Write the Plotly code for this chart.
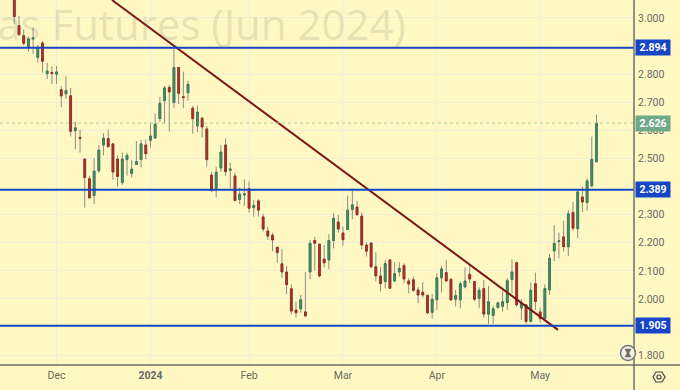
import plotly.graph_objects as go

opens = [3.09,2.973,2.937,2.895,2.925,2.860,2.911,2.802,2.806,2.800,2.745,2.730,2.723,2.599,2.575,2.498,2.428,2.368,2.456,2.548,2.571,2.552,2.498,2.414,2.496,2.447,2.479,2.496,2.548,2.565,2.573,2.642,2.706,2.753,
2.699,2.824,2.720,2.734,2.679,2.616,2.643,2.605,2.441,2.394,2.466,2.548,2.458,2.438,2.354,2.370,2.392,2.325,2.349,2.292,2.242,
2.227,2.184,2.125,2.096,2.036,1.961,1.965,1.954,2.096,2.208,2.195,2.142,2.139,2.208,2.274,2.235,2.247,2.318,2.327,2.295,2.192,2.199,2.115,2.082,2.062,2.139,2.064,2.096,2.119,2.064,2.068,2.032,2.024,2.013,
1.952,1.997,2.075,2.094,2.070,1.999,1.997,2.043,2.088,2.062,2.002,2.037,1.946,1.941,1.969,1.974,1.987,2.069,2.129,1.968,1.979,1.920,2.054,1.954,1.930,2.032,2.171,2.204,2.221,2.186,2.308,2.250,2.363,2.343,2.403,2.488]
closes = [3.005,2.941,2.910,2.925,2.928,2.896,2.846,2.811,2.802,2.808,2.723,2.742,2.597,2.609,2.571,2.432,2.360,2.455,2.530,2.572,2.542,2.452,2.436,2.498,2.511,2.462,2.489,2.552,2.517,2.580,2.622,2.696,2.751,2.737,
2.824,2.732,2.717,2.764,2.642,2.665,2.612,2.496,2.386,2.451,2.523,2.453,2.462,2.350,2.373,2.374,2.323,2.333,2.316,2.249,2.224,
2.210,2.165,2.096,2.051,1.957,1.951,1.997,1.940,2.198,2.198,2.082,2.129,2.208,2.287,2.249,2.211,2.316,2.335,2.300,2.192,2.170,2.115,2.082,2.055,2.126,2.038,2.090,2.109,2.071,2.053,2.031,2.014,2.014,1.951,
1.999,2.075,2.107,2.064,1.997,2.012,2.054,2.064,2.071,1.999,2.031,1.946,1.990,1.965,1.986,1.990,2.065,2.096,1.979,1.985,1.920,2.031,1.991,1.931,2.037,2.145,2.198,2.207,2.186,2.303,2.252,2.381,2.345,2.420,2.497,2.626]
highs = [3.12,3.007,2.960,2.934,2.966,2.904,2.918,2.840,2.827,2.830,2.758,2.793,2.751,2.631,2.602,2.498,2.438,2.502,2.548,2.590,2.602,2.552,2.511,2.521,2.521,2.495,2.562,2.566,2.568,2.629,2.660,2.719,2.758,2.762,
2.898,2.824,2.809,2.777,2.687,2.688,2.649,2.616,2.453,2.471,2.548,2.571,2.485,2.450,2.397,2.426,2.418,2.352,2.355,2.303,2.258,
2.236,2.186,2.178,2.118,2.052,1.991,2.014,2.096,2.210,2.222,2.195,2.192,2.230,2.305,2.299,2.258,2.368,2.393,2.349,2.307,2.203,2.203,2.166,2.113,2.139,2.142,2.131,2.131,2.127,2.074,2.080,2.042,2.059,2.014,
2.018,2.091,2.118,2.139,2.074,2.032,2.062,2.112,2.121,2.064,2.042,2.068,2.046,1.976,1.991,2.030,2.074,2.141,2.133,2.000,1.979,2.058,2.094,1.970,2.052,2.160,2.263,2.236,2.278,2.317,2.345,2.388,2.400,2.429,2.578,2.656]
lows = [2.979,2.936,2.903,2.880,2.872,2.841,2.806,2.783,2.765,2.765,2.682,2.712,2.578,2.533,2.521,2.325,2.357,2.338,2.450,2.511,2.540,2.424,2.400,2.406,2.439,2.432,2.479,2.468,2.498,2.539,2.571,2.630,2.625,2.596,
2.679,2.694,2.679,2.706,2.588,2.594,2.575,2.471,2.381,2.362,2.452,2.438,2.394,2.349,2.338,2.332,2.307,2.293,2.293,2.240,2.210,
2.170,2.129,2.075,2.018,1.946,1.934,1.951,1.935,2.070,2.101,2.077,2.113,2.106,2.180,2.236,2.190,2.246,2.284,2.295,2.177,2.151,2.109,2.062,2.026,2.038,2.036,2.061,2.080,2.056,2.020,2.025,1.985,2.005,1.946,
1.930,1.961,2.023,2.062,1.994,1.973,1.967,2.038,2.056,1.992,1.967,1.933,1.911,1.911,1.967,1.955,1.961,2.020,1.973,1.925,1.911,1.916,1.961,1.916,1.925,2.014,2.135,2.145,2.169,2.153,2.243,2.217,2.310,2.314,2.397,2.488]
bars = list(range(len(opens)))

level_values = [2.894, 2.389, 1.905]
last_price = 2.626
trend_bars = [20.8, 115.8]
trend_prices = [3.064, 1.890]

month_bars = [9, 29, 50, 70, 90, 112]
month_labels = ["Dec", "<b>2024</b>", "Feb", "Mar", "Apr", "May"]
price_ticks = [1.8, 2.0, 2.1, 2.2, 2.3, 2.5, 2.6, 2.7, 2.8, 3.0]
price_labels = ["1.800", "2.000", "2.100", "2.200", "2.300", "2.500", "2.600", "2.700", "2.800", "3.000"]
title_text = "Natural Gas Futures (Jun 2024)"

W, H = 680, 390
PW, PH = 634, 365
BG = "#fff8c2"
GRID = "#f1eddb"
BLUE = "#1646c6"
GREEN = "#6fa987"
TXT = "#6a6a66"
AXIS = "#6f6f68"
FONT = "Roboto"

def px(x): return x / PW
def py(y): return 1 - y / PH

fig = go.Figure()
# wicks
fig.add_trace(go.Candlestick(
    x=bars, open=opens, high=highs, low=lows, close=closes, whiskerwidth=0,
    increasing=dict(line=dict(color="#8d8d84", width=1), fillcolor="#8d8d84"),
    decreasing=dict(line=dict(color="#8d8d84", width=1), fillcolor="#8d8d84"),
    showlegend=False, hoverinfo="skip"))
# bodies
body_hi = [max(o, c) for o, c in zip(opens, closes)]
body_lo = [min(o, c) for o, c in zip(opens, closes)]
fig.add_trace(go.Candlestick(
    x=bars, open=opens, high=body_hi, low=body_lo, close=closes, whiskerwidth=0,
    increasing=dict(line=dict(color="#2f7a52", width=0.8), fillcolor="#4a9068"),
    decreasing=dict(line=dict(color="#9c241c", width=0.8), fillcolor="#a9362c"),
    showlegend=False, hoverinfo="skip"))
fig.add_trace(go.Scatter(x=trend_bars, y=trend_prices, mode="lines",
                         line=dict(color="#7c1616", width=2), showlegend=False, hoverinfo="skip"))

shapes = []
for v in level_values:
    shapes.append(dict(type="line", xref="paper", yref="y", x0=0, x1=1, y0=v, y1=v,
                       line=dict(color=BLUE, width=2)))
shapes.append(dict(type="line", xref="paper", yref="y", x0=0, x1=1, y0=last_price, y1=last_price,
                   line=dict(color="#a8c8a0", width=1, dash="dot")))
# axis frame lines
shapes.append(dict(type="line", xref="paper", yref="paper", x0=px(0), x1=px(W), y0=py(365), y1=py(365),
                   line=dict(color=AXIS, width=1.5)))
shapes.append(dict(type="line", xref="paper", yref="paper", x0=px(634), x1=px(634), y0=py(0), y1=py(H),
                   line=dict(color=AXIS, width=1.5)))

def poly(points):
    return "M " + " L ".join(f"{px(a):.5f} {py(b):.5f}" for a, b in points) + " Z"

# settings hexagon
cx, cy = 659, 377
hexp = [(cx-6, cy), (cx-3, cy-5), (cx+3, cy-5), (cx+6, cy), (cx+3, cy+5), (cx-3, cy+5)]
shapes.append(dict(type="path", xref="paper", yref="paper", path=poly(hexp), line=dict(color="#444444", width=1.2)))
shapes.append(dict(type="circle", xref="paper", yref="paper", x0=px(cx-2), x1=px(cx+2), y0=py(cy+2), y1=py(cy-2),
                   line=dict(color="#444444", width=1.2)))
# hourglass badge
hx, hy = 628, 353
shapes.append(dict(type="circle", xref="paper", yref="paper", x0=px(hx-7.5), x1=px(hx+7.5), y0=py(hy+7.5), y1=py(hy-7.5),
                   fillcolor="#f6f2e0", line=dict(color="#6f7488", width=1.5)))
shapes.append(dict(type="path", xref="paper", yref="paper",
                   path=poly([(hx-3, hy-4), (hx+3, hy-4), (hx+1, hy), (hx+3, hy+4), (hx-3, hy+4), (hx-1, hy)]),
                   fillcolor="#6f6f6f", line=dict(color="#6f6f6f", width=0.5)))

annotations = [dict(xref="paper", yref="paper", x=px(408), y=py(24), xanchor="right", yanchor="middle",
                    text=title_text, showarrow=False,
                    font=dict(family="Open Sans", size=42, color="rgba(110,105,90,0.17)"))]
for v in level_values:
    annotations.append(dict(xref="paper", yref="y", x=px(634.5), y=v, xanchor="left", yanchor="middle",
                            text=f"<b>{v:.3f}</b>", showarrow=False, bgcolor=BLUE, width=34, height=15,
                            borderpad=0, font=dict(family=FONT, size=10.5, color="white")))
annotations.append(dict(xref="paper", yref="y", x=px(634.5), y=last_price, xanchor="left", yanchor="middle",
                        text=f"<b>{last_price:.3f}</b>", showarrow=False, bgcolor=GREEN, width=34, height=15,
                        borderpad=0, font=dict(family=FONT, size=10.5, color="white")))

axis_common = dict(showline=False, zeroline=False, showgrid=True, gridcolor=GRID, gridwidth=1.3, ticks="",
                   tickfont=dict(family=FONT, size=10.5, color=TXT))
fig.update_layout(
    width=W, height=H, autosize=False,
    margin=dict(l=0, r=W-PW, t=0, b=H-PH),
    paper_bgcolor=BG, plot_bgcolor=BG, showlegend=False, boxgap=0.45,
    shapes=shapes, annotations=annotations,
    xaxis=dict(range=[-3.05, 131.99], tickmode="array", tickvals=month_bars, ticktext=month_labels,
               rangeslider=dict(visible=False), ticklabelstandoff=2, **axis_common),
    yaxis=dict(range=[1.765, 3.064], side="right", tickmode="array", tickvals=price_ticks, ticktext=price_labels,
               ticklabelstandoff=3, **axis_common),
)
fig.write_html("out.html", post_script="document.body.style.margin='0';document.body.style.overflow='hidden';",
               config=dict(displayModeBar=False))
